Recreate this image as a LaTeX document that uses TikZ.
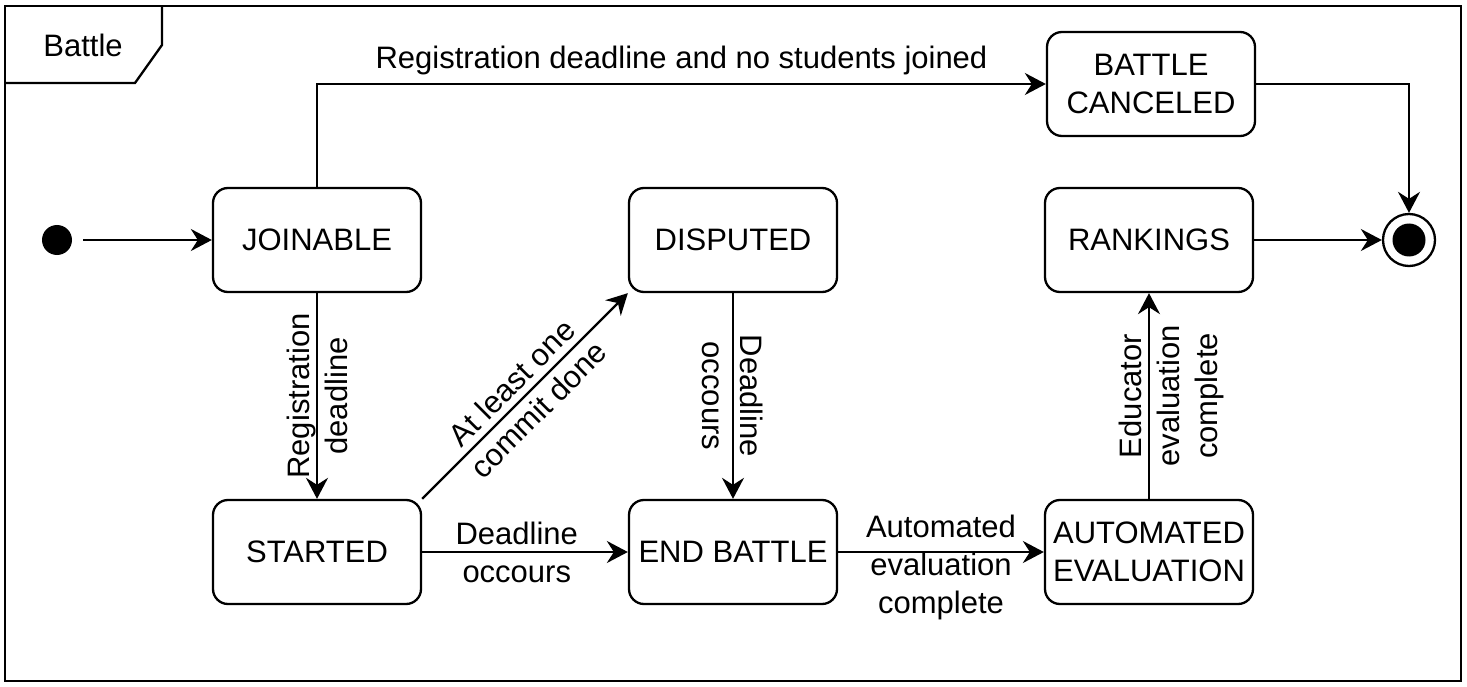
\documentclass[tikz,border=0pt]{standalone}
\usepackage{fontspec}
\setmainfont{Liberation Sans}
\usetikzlibrary{arrows.meta,calc}
\begin{document}
\begin{tikzpicture}[x=1pt,y=-1pt,
  every node/.style={font=\fontsize{31}{38}\selectfont},
  state/.style={draw, line width=2.3pt, rounded corners=15pt, minimum width=208pt, minimum height=104pt, align=center, inner sep=0pt},
  lbl/.style={align=center, inner sep=0pt},
  flow/.style={line width=2.3pt, -{Stealth[length=21pt,width=22pt,inset=7pt]}},
  frameline/.style={line width=2.3pt},
]
\useasboundingbox (0,0) rectangle (1467,687);
% frame
\draw[frameline] (5,6) rectangle (1461,681);
\draw[frameline] (5,83) -- (135,83) -- (162,45) -- (162,6);
\node (battle) at (83,45) {Battle};

% states
\node[circle, fill, minimum size=30pt, inner sep=0pt] (init) at (57,240) {};
\node[state] (joinable) at (317,240) {JOINABLE};
\node[state] (started) at (317,552) {STARTED};
\node[state] (disputed) at (733,240) {DISPUTED};
\node[state] (endb) at (733,552) {END BATTLE};
\node[state] (autoeval) at (1149,552) {AUTOMATED\\EVALUATION};
\node[state] (rankings) at (1149,240) {RANKINGS};
\node[state] (canceled) at (1151,84) {BATTLE\\CANCELED};
\node[circle, draw, line width=2.3pt, fill=white, minimum size=52pt, inner sep=0pt] (final) at (1409,240) {};
\node[circle, fill, minimum size=33pt, inner sep=0pt] (finaldot) at (final) {};

% transitions
\draw[flow, shorten <=11pt] (init) -- (joinable);
\draw[flow] (joinable) -- (started)
  node[midway, lbl, rotate=90] (l1) {Registration\\deadline};
\draw[flow] (joinable.north) |- (canceled.west);
\node[lbl] (l2) at ($(joinable.north |- canceled.west)!0.5!(canceled.west)+(0,-24)$) {Registration deadline and no students joined};
\draw[flow] (canceled.east) -| (final.north);
\draw[flow] (started.north east) -- (disputed.south west)
  node[midway, lbl, rotate=45] (l3) {At least one\\commit done};
\draw[flow] (started) -- (endb)
  node[pos=0.46, lbl] (l4) {Deadline\\occours};
\draw[flow] (disputed) -- (endb)
  node[midway, lbl, rotate=-90] (l5) {Deadline\\occours};
\draw[flow] (endb) -- (autoeval);
\node[lbl] (l6) at ($(endb.east)!0.5!(autoeval.west)+(0,15)$) {Automated\\evaluation\\complete};
\draw[flow] (autoeval) -- (rankings);
\node[lbl, rotate=90] (l7) at ($(autoeval.north)!0.5!(rankings.south)+(22,0)$) {Educator\\evaluation\\complete};
\draw[flow] (rankings) -- (final);
\end{tikzpicture}
\end{document}
